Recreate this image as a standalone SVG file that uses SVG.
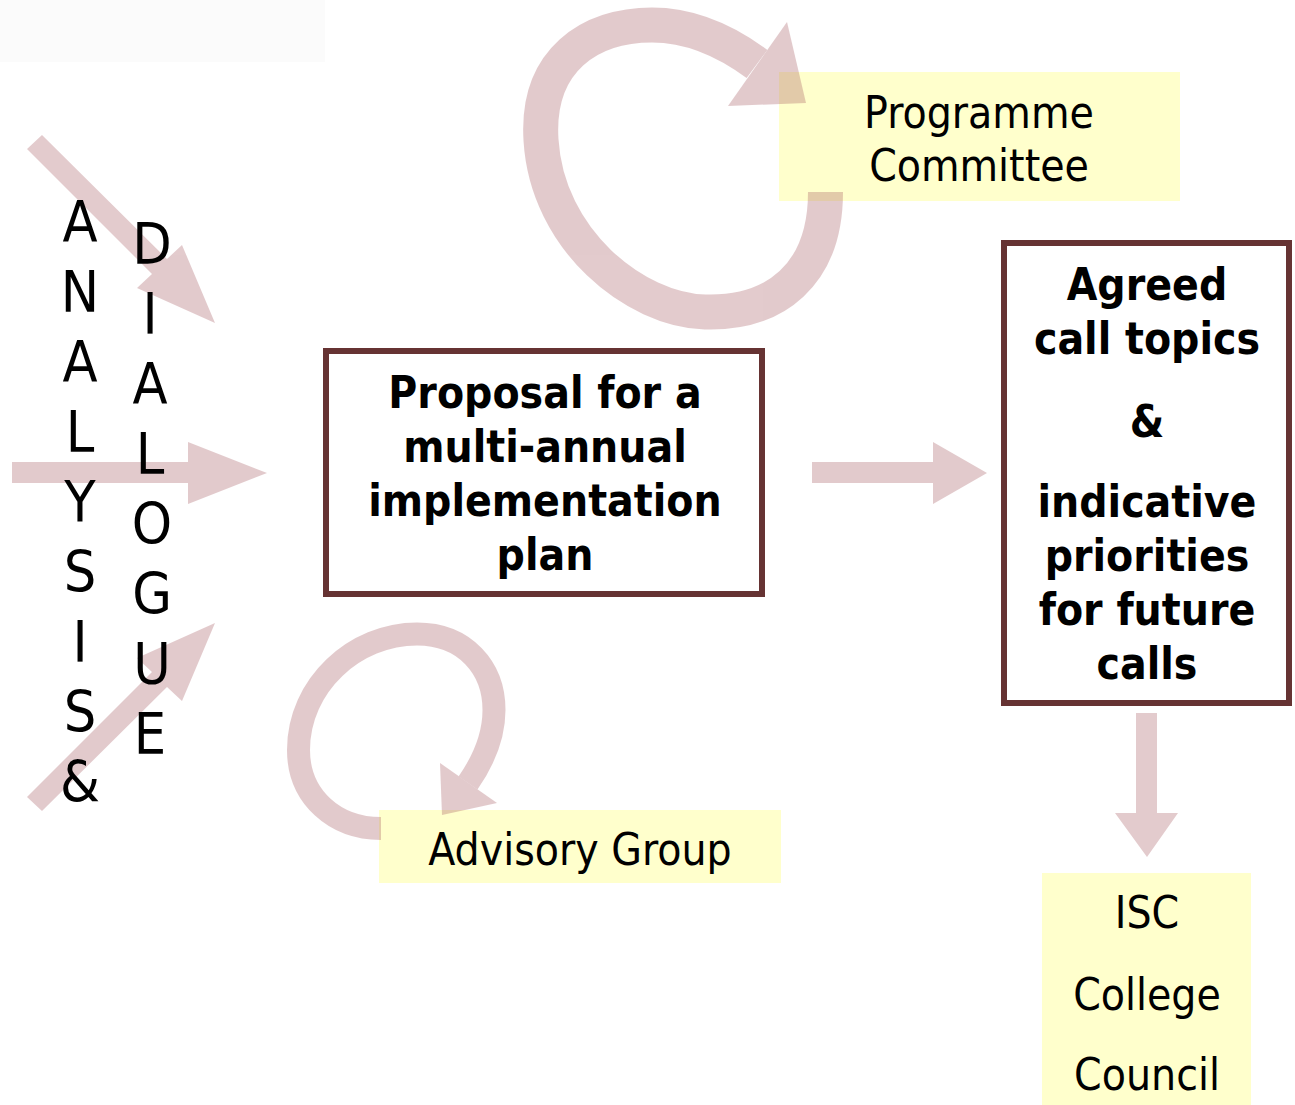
<svg xmlns="http://www.w3.org/2000/svg" width="1295" height="1105" viewBox="0 0 1295 1105">
  <style>
    .reg { font-family: "DejaVu Sans Condensed", "DejaVu Sans", sans-serif; font-stretch: condensed; font-size: 44px; fill: #000; text-anchor: middle; }
    .bold { font-family: "DejaVu Sans Condensed", "DejaVu Sans", sans-serif; font-stretch: condensed; font-weight: bold; font-size: 44px; fill: #000; text-anchor: middle; }
    .vert { font-family: "DejaVu Sans Condensed", "DejaVu Sans", sans-serif; font-stretch: condensed; font-size: 57px; fill: #000; text-anchor: middle; }
    .yellow { fill: #ffffcc; }
    .box { fill: #ffffff; stroke: #663333; stroke-width: 6; }
    .arrow { fill: #a5575e; }
    .loop { fill: none; stroke: #a5575e; }
  </style>
  <rect width="1295" height="1105" fill="#ffffff"/>
  <rect x="0" y="0" width="325" height="62" fill="#fbfbfb"/>

  <g id="node-programme-committee">
    <rect class="yellow" x="779" y="72" width="401" height="129"/>
    <text class="reg" x="979" y="128">Programme</text>
    <text class="reg" x="979" y="181">Committee</text>
  </g>
  <g id="node-advisory-group">
    <rect class="yellow" x="379" y="810" width="402" height="73"/>
    <text class="reg" x="580" y="865">Advisory Group</text>
  </g>
  <g id="node-isc">
    <rect class="yellow" x="1042" y="873" width="209" height="232"/>
    <text class="reg" x="1147" y="928">ISC</text>
    <text class="reg" x="1147" y="1010">College</text>
    <text class="reg" x="1147" y="1090">Council</text>
  </g>

  <g id="connectors" opacity="0.31">
    <polygon class="arrow" points="27,149 42,135 167,259 182,245 215,323 137,288 152,274"/>
    <polygon class="arrow" points="12,462 188,462 188,442 267,473 188,504 188,483 12,483"/>
    <polygon class="arrow" points="27,797 42,811 167,687 182,701 215,623 137,658 152,672"/>
    <polygon class="arrow" points="812,462 933,462 933,442 987,473 933,504 933,483 812,483"/>
    <polygon class="arrow" points="1136,713 1157,713 1157,813 1178,813 1147,857 1115,813 1136,813"/>
    <path class="loop" stroke-width="35" d="M 825.5 192 C 825.5 275, 775 314, 705 312 C 635 310, 547 240, 541 140 C 536 60, 590 25, 652 25 C 695 25, 730 44, 757 64"/>
    <polygon class="arrow" points="787,22 806,103 728,106"/>
    <path class="loop" stroke-width="23" d="M 381 828.5 C 335 828.5, 298.5 797, 298.5 750 C 298.5 685, 355 634, 417 634 C 465 634, 494 668, 494 710 C 494 735, 484 760, 468 783"/>
    <polygon class="arrow" points="440,763 497,803 442,815"/>
  </g>

  <g id="node-analysis-dialogue">
    <text class="vert" x="80" y="242">A</text>
    <text class="vert" x="80" y="312">N</text>
    <text class="vert" x="80" y="382">A</text>
    <text class="vert" x="80" y="452">L</text>
    <text class="vert" x="80" y="522">Y</text>
    <text class="vert" x="80" y="592">S</text>
    <text class="vert" x="80" y="662">I</text>
    <text class="vert" x="80" y="732">S</text>
    <text class="vert" x="80" y="802">&amp;</text>
    <text class="vert" x="152" y="264">D</text>
    <text class="vert" x="150" y="334">I</text>
    <text class="vert" x="150" y="404">A</text>
    <text class="vert" x="150" y="474">L</text>
    <text class="vert" x="152" y="544">O</text>
    <text class="vert" x="152" y="614">G</text>
    <text class="vert" x="152" y="684">U</text>
    <text class="vert" x="150" y="754">E</text>
  </g>

  <g id="node-proposal">
    <rect class="box" x="326" y="351" width="436" height="243"/>
    <text class="bold" x="545" y="408">Proposal for a</text>
    <text class="bold" x="545" y="462">multi-annual</text>
    <text class="bold" x="545" y="516">implementation</text>
    <text class="bold" x="545" y="570">plan</text>
  </g>

  <g id="node-agreed">
    <rect class="box" x="1004" y="243" width="285" height="460"/>
    <text class="bold" x="1147" y="300">Agreed</text>
    <text class="bold" x="1147" y="354">call topics</text>
    <text class="bold" x="1147" y="437">&amp;</text>
    <text class="bold" x="1147" y="517">indicative</text>
    <text class="bold" x="1147" y="571">priorities</text>
    <text class="bold" x="1147" y="625">for future</text>
    <text class="bold" x="1147" y="679">calls</text>
  </g>
</svg>
